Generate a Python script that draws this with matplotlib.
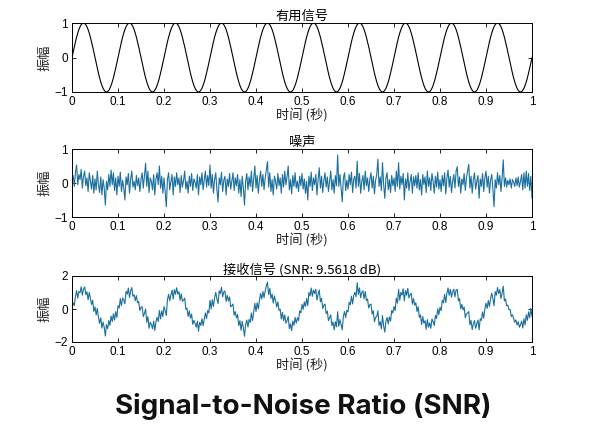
import numpy as np
import matplotlib
matplotlib.use("Agg")
import matplotlib.pyplot as plt

plt.rcParams['font.family'] = ['Liberation Sans', 'Noto Sans CJK SC', 'DejaVu Sans']

# time axis: 0..1 s, step 0.0025 s
t = np.linspace(0, 1, 401)

# useful signal (10 Hz sine) samples
signal = [
    0, .156, .309, .454, .588, .707, .809, .891, .951, .988, 1, .988, .951, .891, .809, .707, .588, .454, .309, .156,
    0, -.156, -.309, -.454, -.588, -.707, -.809, -.891, -.951, -.988, -1, -.988, -.951, -.891, -.809, -.707, -.588, -.454, -.309, -.156,
    0, .156, .309, .454, .588, .707, .809, .891, .951, .988, 1, .988, .951, .891, .809, .707, .588, .454, .309, .156,
    0, -.156, -.309, -.454, -.588, -.707, -.809, -.891, -.951, -.988, -1, -.988, -.951, -.891, -.809, -.707, -.588, -.454, -.309, -.156,
    0, .156, .309, .454, .588, .707, .809, .891, .951, .988, 1, .988, .951, .891, .809, .707, .588, .454, .309, .156,
    0, -.156, -.309, -.454, -.588, -.707, -.809, -.891, -.951, -.988, -1, -.988, -.951, -.891, -.809, -.707, -.588, -.454, -.309, -.156,
    0, .156, .309, .454, .588, .707, .809, .891, .951, .988, 1, .988, .951, .891, .809, .707, .588, .454, .309, .156,
    0, -.156, -.309, -.454, -.588, -.707, -.809, -.891, -.951, -.988, -1, -.988, -.951, -.891, -.809, -.707, -.588, -.454, -.309, -.156,
    0, .156, .309, .454, .588, .707, .809, .891, .951, .988, 1, .988, .951, .891, .809, .707, .588, .454, .309, .156,
    0, -.156, -.309, -.454, -.588, -.707, -.809, -.891, -.951, -.988, -1, -.988, -.951, -.891, -.809, -.707, -.588, -.454, -.309, -.156,
    0, .156, .309, .454, .588, .707, .809, .891, .951, .988, 1, .988, .951, .891, .809, .707, .588, .454, .309, .156,
    0, -.156, -.309, -.454, -.588, -.707, -.809, -.891, -.951, -.988, -1, -.988, -.951, -.891, -.809, -.707, -.588, -.454, -.309, -.156,
    0, .156, .309, .454, .588, .707, .809, .891, .951, .988, 1, .988, .951, .891, .809, .707, .588, .454, .309, .156,
    0, -.156, -.309, -.454, -.588, -.707, -.809, -.891, -.951, -.988, -1, -.988, -.951, -.891, -.809, -.707, -.588, -.454, -.309, -.156,
    0, .156, .309, .454, .588, .707, .809, .891, .951, .988, 1, .988, .951, .891, .809, .707, .588, .454, .309, .156,
    0, -.156, -.309, -.454, -.588, -.707, -.809, -.891, -.951, -.988, -1, -.988, -.951, -.891, -.809, -.707, -.588, -.454, -.309, -.156,
    0, .156, .309, .454, .588, .707, .809, .891, .951, .988, 1, .988, .951, .891, .809, .707, .588, .454, .309, .156,
    0, -.156, -.309, -.454, -.588, -.707, -.809, -.891, -.951, -.988, -1, -.988, -.951, -.891, -.809, -.707, -.588, -.454, -.309, -.156,
    0, .156, .309, .454, .588, .707, .809, .891, .951, .988, 1, .988, .951, .891, .809, .707, .588, .454, .309, .156,
    0, -.156, -.309, -.454, -.588, -.707, -.809, -.891, -.951, -.988, -1, -.988, -.951, -.891, -.809, -.707, -.588, -.454, -.309, -.156,
    0,
]

# noise samples
noise = [
    0.05, 0.22, -0.10, 0.30, 0.53, -0.05, 0.25, 0.10, 0.40, -0.15, 0.20, 0.35, -0.08, 0.15, -0.25, 0.30, 0.05, -0.18, 0.22, -0.30,
    0.12, -0.20, 0.35, -0.05, -0.28, 0.18, -0.35, 0.10, -0.15, -0.65, 0.05, -0.20, 0.25, -0.10, 0.38, -0.05, 0.30, -0.22, 0.15, -0.35,
    0.20, -0.10, 0.32, -0.25, 0.08, -0.15, -0.50, 0.18, -0.05, 0.28, -0.30, 0.12, 0.35, -0.12, 0.05, -0.20, 0.22, -0.08, 0.15, -0.25,
    0.10, 0.30, -0.15, 0.20, 0.58, -0.10, 0.35, -0.28, 0.15, 0.05, -0.20, 0.25, -0.35, 0.12, 0.30, -0.05, 0.50, -0.15, 0.20, -0.30,
    0.15, -0.25, -0.70, 0.10, 0.30, -0.20, 0.05, 0.25, -0.35, 0.18, -0.10, 0.30, -0.05, 0.15, -0.28, 0.22, -0.12, 0.08, 0.35, -0.18,
    0.05, -0.30, 0.20, -0.10, 0.28, -0.22, 0.12, 0.02, -0.15, 0.25, -0.35, 0.18, -0.05, 0.30, -0.20, 0.10, 0.35, -0.12, 0.22, -0.08,
    0.53, -0.15, 0.25, -0.30, 0.10, 0.30, -0.20, -0.56, 0.15, -0.05, 0.32, -0.25, 0.08, 0.20, -0.35, 0.12, -0.10, 0.28, -0.18, 0.05,
    0.30, -0.22, 0.15, -0.08, 0.25, -0.30, 0.10, -0.40, 0.20, -0.15, -0.65, 0.05, 0.28, -0.20, 0.18, -0.10, 0.35, -0.25, 0.12, 0.50,
    -0.15, 0.22, -0.30, 0.08, 0.35, -0.10, 0.25, -0.20, 0.15, 0.40, 0.63, -0.12, 0.30, -0.25, 0.10, -0.35, 0.20, 0.05, -0.18, 0.28,
    -0.08, 0.15, -0.30, 0.25, -0.12, 0.35, -0.05, 0.18, 0.50, -0.20, 0.10, -0.32, 0.22, -0.10, 0.30, -0.15, 0.05, -0.25, 0.20, -0.08,
    0.28, -0.18, 0.12, -0.30, 0.05, -0.50, 0.20, -0.10, 0.32, -0.22, 0.15, -0.05, 0.25, -0.35, 0.10, 0.45, -0.15, 0.20, -0.28, 0.08,
    0.30, -0.12, 0.18, -0.25, 0.05, 0.35, -0.20, 0.10, -0.30, 0.22, -0.08, 0.82, -0.10, 0.25, -0.15, -0.55, 0.15, 0.30, -0.22, 0.08,
    -0.18, 0.25, -0.05, 0.32, -0.28, 0.12, 0.20, -0.15, 0.64, -0.10, 0.28, -0.30, 0.05, 0.22, -0.20, 0.35, -0.08, 0.15, -0.25, 0.10,
    0.30, -0.15, 0.20, -0.32, 0.08, 0.25, 0.70, -0.10, 0.18, -0.22, 0.60, -0.05, -0.45, 0.15, 0.30, -0.20, 0.10, -0.28, 0.22, -0.08,
    0.15, -0.25, 0.35, -0.10, 0.60, -0.18, 0.20, -0.05, 0.28, -0.50, 0.12, -0.15, 0.30, -0.22, 0.05, 0.25, -0.30, 0.18, -0.08, 0.22,
    -0.15, 0.30, -0.20, 0.10, -0.35, 0.25, -0.05, 0.18, -0.28, 0.35, -0.10, 0.15, -0.22, 0.28, 0.05, -0.30, 0.20, -0.12, 0.32, -0.18,
    0.10, -0.25, 0.22, -0.08, 0.30, -0.32, 0.15, 0.38, -0.12, 0.20, -0.28, 0.05, 0.25, -0.15, 0.35, 0.48, -0.10, 0.18, -0.30, 0.12,
    -0.05, 0.28, -0.22, 0.15, 0.35, 0.55, -0.15, 0.20, -0.30, 0.10, 0.30, -0.18, 0.05, 0.22, -0.45, 0.12, -0.10, 0.28, -0.25, 0.15,
    0.35, -0.12, 0.20, -0.30, 0.08, 0.25, -0.20, -0.70, 0.10, -0.15, 0.30, -0.05, 0.22, -0.25, 0.15, 0.68, -0.10, 0.15, -0.12, 0.08,
    -0.05, 0.12, -0.15, 0.10, 0.02, -0.10, 0.15, -0.08, 0.18, -0.12, 0.05, 0.25, -0.20, 0.30, -0.15, 0.35, -0.10, 0.28, -0.22, 0.20,
    -0.45,
]

received = np.array(signal) + np.array(noise)
snr_db = 9.5618

xticks = [0, 0.1, 0.2, 0.3, 0.4, 0.5, 0.6, 0.7, 0.8, 0.9, 1]
xticklabels = ['0', '0.1', '0.2', '0.3', '0.4', '0.5', '0.6', '0.7', '0.8', '0.9', '1']

W, H = 607, 428
fig = plt.figure(figsize=(W / 100, H / 100), dpi=100)

cjk = ['Noto Sans CJK SC', 'DejaVu Sans']
blue = '#1b6f9e'

def make_ax(top, bottom):
    left, right = 72, 532
    ax = fig.add_axes([left / W, 1 - bottom / H, (right - left) / W, (bottom - top) / H])
    ax.tick_params(direction='in', top=True, right=True, length=3, width=0.6,
                   labelsize=8.5, pad=3)
    for s in ax.spines.values():
        s.set_linewidth(0.7)
    ax.set_xlim(0, 1)
    ax.set_xticks(xticks)
    ax.set_xticklabels(xticklabels)
    ax.set_xlabel('时间 (秒)', family=cjk, fontsize=9.5, labelpad=0.5, color='#222222')
    ax.set_ylabel('振幅', family=cjk, fontsize=9.5, labelpad=2, color='#222222')
    return ax

ax1 = make_ax(23, 92)
ax1.plot(t, signal, color='black', lw=0.8)
ax1.set_ylim(-1, 1)
ax1.set_yticks([-1, 0, 1])
ax1.set_title('有用信号', family=cjk, fontsize=9.5, pad=2)

ax2 = make_ax(149, 217)
ax2.plot(t, noise, color=blue, lw=0.8)
ax2.set_ylim(-1, 1)
ax2.set_yticks([-1, 0, 1])
ax2.set_title('噪声', family=cjk, fontsize=9.5, pad=2)

ax3 = make_ax(276, 342)
ax3.plot(t, received, color=blue, lw=0.8)
ax3.set_ylim(-2, 2)
ax3.set_yticks([-2, 0, 2])
ax3.set_title(f'接收信号 (SNR: {snr_db:.4f} dB)', family=cjk, fontsize=9.5, pad=2)

fig.text(0.5, 1 - 407 / H, 'Signal-to-Noise Ratio (SNR)', ha='center', va='center',
         fontsize=20, fontweight='bold', family=['Inter', 'DejaVu Sans'], color='#111111')

fig.savefig('out.png', dpi=100)
